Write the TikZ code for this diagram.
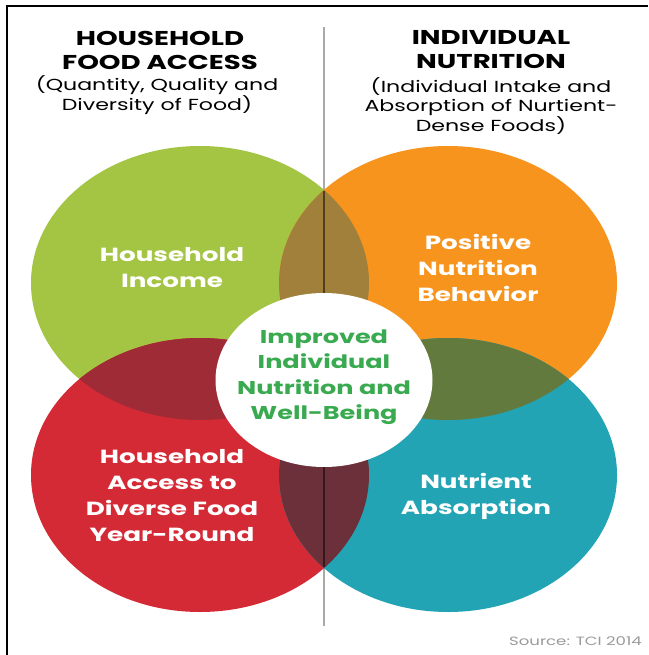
\documentclass[tikz,border=0pt]{standalone}
\usepackage{fontspec}
\setmainfont{Poppins}[FakeStretch=1.38]
\usetikzlibrary{positioning}
\usepackage{xcolor}
\definecolor{incgreen}{HTML}{A4C443}
\definecolor{behorange}{HTML}{F7941E}
\definecolor{accred}{HTML}{D42A36}
\definecolor{absteal}{HTML}{23A4B4}
\definecolor{gobrown}{HTML}{A0803A}
\definecolor{grdark}{HTML}{9E2B35}
\definecolor{rtmaroon}{HTML}{6B3039}
\definecolor{otolive}{HTML}{627A3E}
\definecolor{coregreen}{HTML}{3AAA50}
\definecolor{divider}{HTML}{AAAAAA}
\definecolor{srcgray}{HTML}{9A9A9A}

\begin{document}
\begin{tikzpicture}[
  x=1pt, y=-1pt,
  every node/.style={align=center, inner sep=0pt},
  head/.style={font=\fontsize{20}{24}\selectfont\bfseries},
  sub/.style={font=\fontsize{16}{19.5}\selectfont},
  inlabel/.style={font=\fontsize{19}{26}\selectfont\bfseries, text=white},
  blob/.style={x radius=169pt, y radius=137pt}
]
  \useasboundingbox (0,0) rectangle (648,655);
  \fill[white] (0,0) rectangle (648,655);

  % frame
  \draw[line width=2pt] (7,655) -- (7,6) -- (648,6);

  % divider between the two halves
  \coordinate (dtop) at (324,27);
  \coordinate (dbot) at (324,626);
  \draw[draw=divider, line width=2pt] (dtop) -- (dbot);

  % circle centres
  \coordinate (cinc) at (200,283);
  \coordinate (cbeh) at (448,283);
  \coordinate (cacc) at (200,475);
  \coordinate (cabs) at (448,475);
  \coordinate (ccore) at (324,380);

  \fill[incgreen]  (cinc) ellipse [blob];
  \fill[behorange] (cbeh) ellipse [blob];
  \fill[accred]    (cacc) ellipse [blob];
  \fill[absteal]   (cabs) ellipse [blob];

  % overlaps
  \begin{scope}
    \clip (cinc) ellipse [blob];
    \fill[gobrown] (cbeh) ellipse [blob];
    \fill[grdark]  (cacc) ellipse [blob];
  \end{scope}
  \begin{scope}
    \clip (cabs) ellipse [blob];
    \fill[otolive]  (cbeh) ellipse [blob];
    \fill[rtmaroon] (cacc) ellipse [blob];
  \end{scope}

  % divider seen through the overlaps
  \coordinate (xtop) at (324,191);
  \coordinate (xbot) at (324,567);
  \draw[black, opacity=0.5, line width=1.5pt] (xtop) -- (xbot);

  % centre disc
  \fill[white] (ccore) ellipse [x radius=108.5pt, y radius=87pt];

  % headings
  \node[head] (hfa) at (160,50) {HOUSEHOLD\\FOOD ACCESS};
  \node[sub] (hfasub) at (157,95) {(Quantity, Quality and\\Diversity of Food)};
  \node[head] (ind) at (491,50) {INDIVIDUAL\\NUTRITION};
  \node[sub] (indsub) at (491,106) {(Individual Intake and\\Absorption of Nurtient-\\Dense Foods)};

  % circle labels
  \node[inlabel] (income) at (172,268) {Household\\Income};
  \node[inlabel] (behav)  at (478,268) {Positive\\Nutrition\\Behavior};
  \node[inlabel] (access) at (172,496) {Household\\Access to\\Diverse Food\\Year-Round};
  \node[inlabel] (absorb) at (476,496) {Nutrient\\Absorption};
  \node[font=\fontsize{18.5}{25.5}\selectfont\bfseries, text=coregreen]
    (core) at (324,377) {Improved\\Individual\\Nutrition and\\Well-Being};

  \node[font=\fontsize{12}{14}\selectfont, text=srcgray, anchor=east]
    (src) at (642,641) {Source: TCI 2014};
\end{tikzpicture}
\end{document}
